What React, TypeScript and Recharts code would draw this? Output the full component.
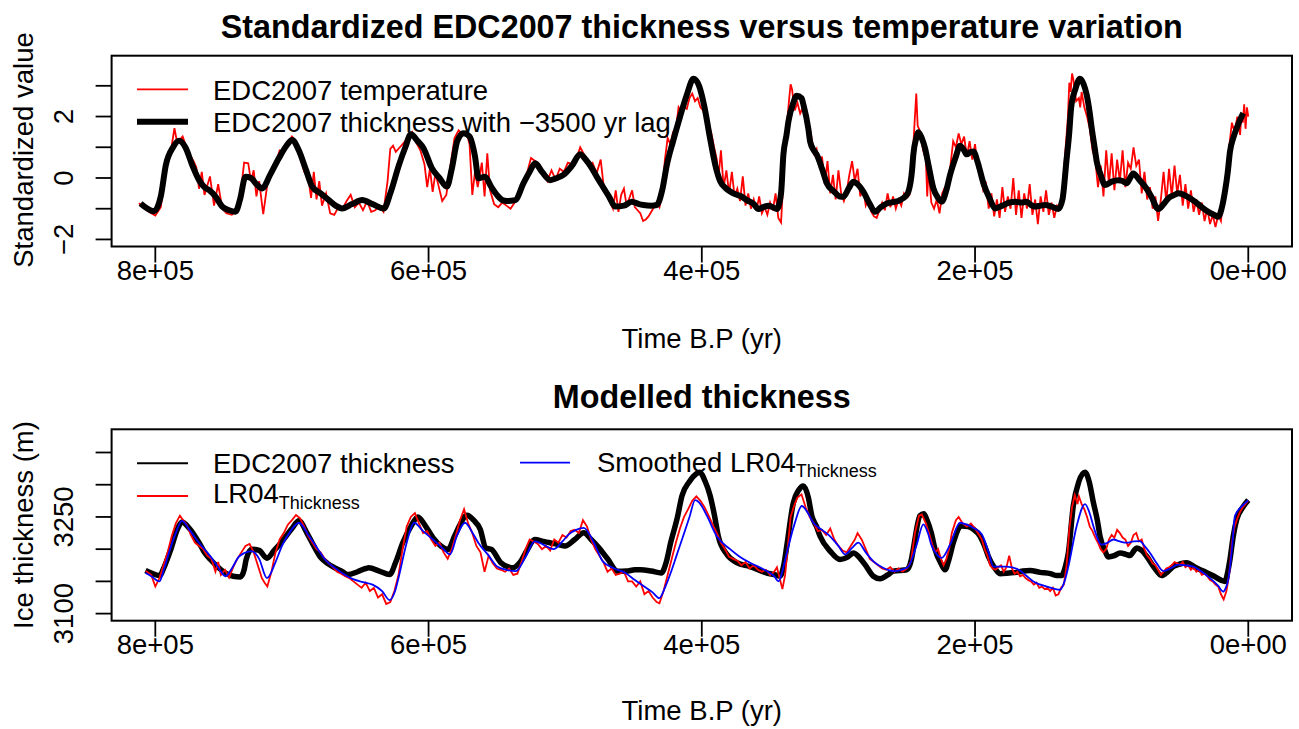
import { LineChart, Line, XAxis, YAxis } from "recharts";

const FONT = '"Liberation Sans", Arial, Helvetica, sans-serif';

// axis ticks (age in kyr B.P.)
const xTicks = [800, 600, 400, 200, 0];
const xTickLabels = ["8e+05", "6e+05", "4e+05", "2e+05", "0e+00"];
const stdTicks = [-2, -1, 0, 1, 2, 3];
const stdTickLabels = ["\u22122", "", "0", "", "2", ""];
const thickTicks = [3100, 3150, 3200, 3250, 3300, 3350];
const thickTickLabels = ["3100", "", "", "3250", "", ""];

// top panel: EDC2007 temperature (standardized), [age kyr, value]
const edcTemp: [number, number][] = [
  [812, -0.82], [808, -0.98], [804, -1.12], [800, -1.22], [796, -0.95], [792, 0.35], [788, 1.05], [786, 1.62],
  [784, 1.15], [780, 1.35], [776, 0.85], [772, 0.55], [770, 0.35], [768, -0.35], [766, 0.2], [764, -0.55],
  [760, 0.05], [757, -0.9], [754, -0.2], [751, -1.0], [748, -1.15], [744, -1.2], [740, -1.05], [737, -0.3],
  [735, 0.5], [732, 0.48], [730, -0.1], [728, 0.25], [726, -0.6], [724, -0.1], [721, -1.18], [718, -0.2],
  [715, 0.2], [712, 0.45], [709, 0.9], [706, 0.85], [703, 1.15], [700, 1.35], [697, 1.2], [694, 0.7],
  [691, 0.2], [688, 0.0], [686, -0.65], [684, 0.2], [682, -0.7], [680, -0.1], [678, -0.9], [675, -0.5],
  [672, -1.15], [669, -1.2], [666, -0.95], [663, -1.0], [660, -0.75], [657, -0.55], [654, -0.95], [651, -0.8],
  [648, -1.05], [645, -0.75], [642, -1.1], [639, -1.05], [636, -0.9], [633, -1.1], [630, -0.1], [628, 0.95],
  [626, 1.05], [624, 0.85], [621, 1.0], [618, 1.15], [615, 1.35], [612, 1.5], [609, 1.15], [606, 0.9],
  [603, 0.45], [601, -0.3], [599, 0.3], [597, -0.45], [595, 0.15], [593, -0.2], [590, -0.75], [587, -0.55],
  [584, 0.4], [581, 1.3], [578, 1.55], [575, 1.4], [572, 1.45], [570, 1.1], [568, -0.55], [566, 0.2],
  [564, -0.3], [561, 0.5], [559, -0.6], [557, 0.8], [555, -0.4], [552, -0.85], [549, -0.95], [546, -0.8],
  [543, -0.9], [540, -1.0], [537, -0.8], [534, -0.5], [531, -0.1], [528, 0.15], [525, 0.65], [522, 0.55],
  [519, 0.45], [516, 0.2], [513, -0.1], [510, 0.25], [507, -0.05], [504, 0.3], [501, 0.2], [498, 0.5],
  [495, 0.45], [492, 0.6], [489, 1.0], [486, 0.75], [483, 0.45], [480, 0.5], [477, 0.15], [474, 0.6],
  [472, -0.2], [470, -0.55], [467, -0.8], [465, -1.0], [463, -0.4], [461, -1.1], [459, -0.55], [457, -0.35],
  [455, -0.9], [453, -0.65], [451, -0.4], [449, -0.95], [447, -1.05], [445, -1.15], [443, -1.4], [441, -1.35],
  [439, -1.25], [437, -1.1], [435, -0.95], [433, -0.8], [431, -0.95], [429, -0.5], [427, 0.6], [425, 1.3],
  [423, 1.1], [421, 1.5], [419, 1.6], [417, 2.3], [415, 2.15], [413, 2.3], [411, 2.25], [409, 2.6],
  [407, 2.75], [405, 2.5], [403, 2.6], [401, 2.3], [399, 2.2], [397, 1.9], [395, 1.75], [393, 1.45],
  [391, 1.0], [389, 0.6], [388, -0.1], [386, 0.9], [384, -0.3], [382, 0.25], [380, -0.5], [378, 0.2],
  [376, -0.6], [374, -0.35], [372, -0.75], [370, 0.05], [368, -0.9], [366, -0.5], [364, -1.0], [362, -0.7],
  [360, -1.05], [358, -0.6], [356, -1.15], [354, -0.95], [352, -1.2], [350, -0.8], [348, -1.05], [346, -0.5],
  [344, -1.3], [342, -1.45], [340, 0.2], [338, 1.6], [336, 2.6], [335, 3.05], [334, 2.9], [332, 2.2],
  [330, 2.45], [328, 2.1], [326, 2.3], [324, 2.0], [322, 1.8], [320, 1.4], [318, 0.8], [316, 0.95],
  [314, 0.4], [312, 0.7], [310, -0.2], [308, 0.55], [306, -0.5], [304, 0.1], [302, -0.7], [300, 0.25],
  [298, -0.5], [296, -0.75], [294, -0.45], [292, 0.1], [290, 0.55], [288, -0.1], [286, 0.3], [284, -0.6],
  [282, -0.3], [280, -0.9], [278, -0.7], [276, -1.1], [274, -1.25], [272, -1.3], [270, -1.05], [268, -0.8],
  [266, -1.05], [264, -0.5], [262, -0.95], [260, -0.6], [258, -1.0], [256, -0.7], [254, -0.9], [252, -0.5],
  [250, -0.65], [248, -0.55], [246, 0.4], [244, 2.0], [243, 2.75], [242, 1.7], [240, 1.5], [238, 0.9],
  [236, 0.6], [235, -0.6], [234, 0.3], [232, -0.8], [230, -1.0], [228, -0.7], [226, -1.15], [224, -0.5],
  [222, -0.3], [220, -0.2], [218, 0.4], [216, 1.2], [214, 1.0], [212, 1.45], [210, 1.1], [208, 1.35],
  [206, 0.7], [204, 1.2], [202, 0.6], [200, 1.1], [198, 0.3], [196, 0.1], [194, -0.4], [192, -0.2],
  [190, -1.0], [188, -0.5], [186, -1.25], [184, -0.7], [182, -1.3], [180, -0.3], [178, -1.1], [176, -0.6],
  [174, -1.0], [172, 0.0], [170, -1.2], [168, -0.4], [166, -1.3], [164, -0.5], [162, -1.0], [160, -0.2],
  [158, -1.2], [156, -0.7], [154, -1.5], [152, -0.6], [150, -1.1], [148, -0.4], [146, -1.2], [144, -0.8],
  [142, -1.3], [140, -0.9], [138, -1.0], [136, -0.4], [134, 0.8], [132, 2.0], [131, 3.1], [130, 2.8],
  [129, 3.4], [128, 3.2], [126, 2.5], [124, 2.6], [123, 2.3], [122, 2.8], [120, 2.3], [118, 2.0],
  [116, 1.6], [114, 0.9], [112, 0.6], [110, -0.3], [108, 0.4], [106, -0.6], [104, 0.9], [102, -0.2],
  [100, 0.8], [98, -0.4], [96, 0.6], [94, -0.1], [92, 0.9], [90, -0.3], [88, 0.5], [86, 0.3],
  [84, 1.0], [82, 0.4], [80, 0.6], [78, -0.5], [76, 0.2], [74, -0.7], [72, -0.3], [70, -1.0],
  [68, -0.6], [66, -1.4], [64, -0.7], [62, 0.2], [60, -0.8], [58, 0.3], [56, -0.6], [54, 0.4],
  [52, -0.5], [50, 0.1], [48, -0.9], [46, -0.2], [44, -1.0], [42, -0.4], [40, -1.1], [38, -0.7],
  [36, -1.2], [34, -0.8], [32, -1.4], [30, -1.0], [28, -1.5], [26, -1.2], [24, -1.6], [22, -1.2],
  [20, -1.4], [18, -0.5], [16, 0.2], [14, 1.0], [12, 1.8], [10, 1.5], [8, 2.0], [6, 1.4],
  [5, 2.1], [4, 1.8], [3, 2.4], [2, 1.6], [1, 2.3], [0, 2.0],
];

// top panel: EDC2007 thickness with -3500 yr lag (standardized)
const edcThickLag: [number, number][] = [
  [810.8, -0.83], [801, -1.08], [796, -0.6], [792.3, 0.42], [787, 1.0], [782.7, 1.21], [778, 1.0], [773, 0.42],
  [768, -0.07], [764, -0.3], [760.8, -0.39], [756, -0.6], [751, -0.93], [746, -1.05], [741.3, -1.1], [738, -0.7],
  [734, 0.04], [730, 0.0], [726, -0.2], [721.8, -0.34], [716, 0.1], [709.6, 0.64], [704, 1.05], [699.8, 1.24],
  [695, 0.9], [690, 0.3], [685.2, -0.28], [679, -0.5], [673, -0.72], [668, -0.9], [663.2, -0.99], [656, -0.85],
  [648.6, -0.72], [641, -0.85], [632.7, -0.99], [628, -0.5], [621.7, 0.42], [617, 1.0], [613, 1.42], [608, 1.2],
  [603.7, 0.97], [597.6, 0.32], [592, 0.0], [586.6, -0.28], [583, 0.3], [579, 1.2], [574.5, 1.46], [570, 1.35],
  [566, 0.7], [563.5, -0.01], [558.6, 0.04], [554, -0.3], [550, -0.55], [546, -0.72], [542.7, -0.75], [536.6, -0.72],
  [530.5, -0.17], [526, 0.2], [522, 0.48], [517, 0.2], [511, -0.07], [506, 0.0], [501.3, 0.1], [495, 0.4],
  [489, 0.77], [485, 0.6], [480.5, 0.32], [477, 0.05], [473.2, -0.23], [468, -0.6], [463.4, -0.93], [457, -0.9],
  [451.2, -0.77], [446, -0.85], [442.7, -0.88], [437, -0.9], [433, -0.88], [429, -0.4], [425.6, 0.42], [421, 1.2],
  [415.9, 2.0], [411, 2.7], [406.1, 3.23], [402, 3.0], [398, 2.3], [394, 1.3], [390, 0.4], [386.6, -0.1],
  [382, -0.35], [376.9, -0.5], [371, -0.6], [367.1, -0.72], [362, -0.85], [358.6, -1.01], [355, -0.95], [351.3, -0.9],
  [348, -0.95], [345.1, -1.01], [342, -0.5], [340.3, 0.75], [338, 1.4], [336.6, 1.84], [333, 2.45], [330.5, 2.68],
  [327, 2.6], [325.6, 2.38], [322, 1.6], [320.7, 1.18], [318, 0.9], [315.8, 0.75], [312, 0.3], [308.5, -0.17],
  [303, -0.45], [299, -0.6], [296.4, -0.61], [292, -0.3], [289, -0.12], [286, -0.2], [281.7, -0.45], [277, -0.85],
  [273.2, -1.1], [269, -0.95], [264.6, -0.83], [259, -0.78], [254.9, -0.72], [251, -0.6], [248.8, -0.45], [246, 0.3],
  [245.2, 0.75], [243, 1.3], [241.5, 1.49], [239, 1.3], [236.6, 0.97], [234, 0.4], [230.5, -0.34], [227, -0.65],
  [224.4, -0.77], [221, -0.4], [218.3, 0.1], [214, 0.7], [211, 1.05], [208, 0.9], [206.1, 0.77], [203, 0.85],
  [201.2, 0.86], [198, 0.5], [193.9, -0.17], [189, -0.7], [185.4, -0.99], [180, -0.9], [175, -0.8], [170.7, -0.77],
  [166, -0.8], [162.2, -0.77], [159, -0.88], [156.1, -0.93], [152, -0.9], [148.8, -0.88], [144, -0.93], [139, -1.01],
  [136, -0.7], [133, 0.6], [131, 1.5], [129.7, 2.27], [126.5, 2.9], [123.2, 3.23], [120.5, 3.05], [118.3, 2.71],
  [116, 2.1], [114.6, 1.62], [112.5, 1.0], [110.9, 0.53], [108, 0.1], [104.9, -0.23], [100, -0.12], [95.1, -0.07],
  [92, -0.1], [89, -0.17], [86.5, 0.0], [84.2, 0.15], [80, -0.05], [75.6, -0.28], [71, -0.6], [65.9, -1.01],
  [62, -0.85], [58.5, -0.66], [54, -0.55], [51.2, -0.5], [45, -0.6], [39, -0.77], [34, -0.95], [29.3, -1.1],
  [25, -1.2], [22, -1.26], [19, -0.9], [17.1, -0.45], [15, 0.2], [13.4, 0.86], [11, 1.3], [8.5, 1.62],
  [6, 1.9], [3.7, 2.11],
];

// bottom panel: EDC2007 thickness (m)
const edcThick: [number, number][] = [
  [807.2, 3167], [803, 3163], [797, 3159], [793, 3175], [788.7, 3199.5], [784, 3230], [780.5, 3242], [775, 3232],
  [768, 3210], [764, 3195], [759.7, 3184], [754, 3172], [748.7, 3163], [743, 3158], [737.7, 3157], [735, 3168],
  [733.5, 3184], [729.4, 3200], [724, 3198], [718.3, 3186], [713, 3198], [707.3, 3212], [700, 3232], [694.9, 3244],
  [689, 3225], [684, 3205], [679.6, 3189], [674, 3178], [668.6, 3171], [663, 3165], [658.9, 3160.5], [652, 3165],
  [646, 3170], [643.8, 3171], [636, 3166], [628.5, 3160.5], [624, 3180], [618.9, 3210], [613, 3235], [607.8, 3250],
  [602, 3235], [596.8, 3218], [591, 3205], [585.7, 3199.5], [581, 3220], [577.5, 3236], [571.9, 3252.7], [567, 3245],
  [562.2, 3231], [558.1, 3202], [554, 3199.5], [547.1, 3179], [541, 3172], [538.8, 3171], [533.3, 3179], [528, 3198],
  [522.2, 3215], [516, 3212], [511.2, 3210], [505, 3207], [500.1, 3205], [493, 3215], [486.4, 3225.6], [481, 3215],
  [475.3, 3202], [469, 3185], [461.5, 3165.6], [455, 3166], [449, 3168], [444.9, 3168], [437, 3166], [429.7, 3163],
  [426, 3180], [422.8, 3210], [418, 3248], [414.5, 3283], [409, 3305], [404, 3317], [401.7, 3319.4], [397.5, 3305],
  [393.9, 3283], [390.5, 3250], [387.9, 3220], [381.7, 3192], [374.4, 3179], [364.7, 3173], [352.4, 3163], [346, 3160],
  [342.7, 3158], [340, 3175], [337.8, 3205], [333, 3272], [329, 3292], [325.7, 3298], [322, 3280], [319.5, 3252],
  [316, 3235], [313.4, 3220], [306.1, 3197], [298.8, 3184], [293, 3188], [289.1, 3194], [285, 3188], [280.5, 3176],
  [274.4, 3158], [269.5, 3154], [264, 3160], [259.8, 3166], [250, 3168], [246.5, 3185], [245.2, 3200], [240.3, 3252],
  [237.5, 3255], [235.3, 3246], [232, 3225], [229.3, 3200], [225, 3178], [222, 3168], [219, 3185], [215.9, 3210],
  [209.7, 3236], [205, 3235], [201.2, 3231], [196.3, 3220], [193, 3205], [190.3, 3189], [186, 3172], [181.7, 3162],
  [175, 3163], [169.5, 3164], [165, 3166], [159.8, 3167], [152.4, 3164], [145, 3162], [140, 3159], [136.6, 3159],
  [134, 3172], [131.7, 3194], [128.1, 3267], [124, 3305], [119.5, 3319.4], [116.5, 3305], [113.4, 3272.5], [110.5, 3245],
  [108.5, 3220], [105, 3198], [102.5, 3188], [98, 3190], [93.9, 3194], [89.5, 3192], [86.6, 3190], [83.5, 3198],
  [81.7, 3202], [78, 3198], [74.4, 3189], [69, 3172], [63.4, 3159], [59, 3165], [54.9, 3173], [50, 3177],
  [45.1, 3179], [39, 3172], [32.9, 3166], [25, 3158], [20, 3152], [17.1, 3150], [15, 3165], [13.4, 3184],
  [11, 3220], [8.5, 3246], [4, 3265], [0, 3276],
];

// bottom panel: LR04 thickness (m)
const lr04Thick: [number, number][] = [
  [807, 3166], [803, 3160], [800, 3142], [797, 3155], [794, 3175], [791, 3195], [788, 3220], [785, 3240],
  [782, 3252], [780, 3246], [777, 3238], [774, 3222], [771, 3210], [768, 3205], [765, 3200], [762, 3190],
  [759, 3185], [756, 3165], [754, 3180], [752, 3160], [749, 3168], [746, 3156], [743, 3172], [740, 3185],
  [737, 3195], [734, 3205], [731, 3208], [728, 3195], [725, 3175], [722, 3155], [720, 3148], [718, 3142],
  [715, 3165], [712, 3195], [709, 3215], [706, 3225], [703, 3238], [700, 3245], [697, 3253], [694, 3248],
  [691, 3235], [688, 3220], [685, 3210], [682, 3200], [679, 3195], [676, 3185], [673, 3178], [670, 3172],
  [667, 3165], [664, 3162], [661, 3158], [658, 3155], [655, 3150], [652, 3145], [649, 3140], [646, 3148],
  [643, 3135], [640, 3140], [637, 3125], [634, 3130], [631, 3115], [628, 3118], [625, 3135], [622, 3160],
  [619, 3200], [616, 3235], [613, 3250], [610, 3256], [607, 3240], [604, 3225], [601, 3228], [598, 3215],
  [595, 3205], [592, 3210], [589, 3195], [586, 3185], [583, 3200], [580, 3222], [577, 3245], [574, 3262],
  [571, 3240], [568, 3225], [565, 3205], [562, 3195], [559, 3165], [556, 3190], [553, 3178], [550, 3170],
  [547, 3168], [544, 3165], [541, 3170], [538, 3160], [535, 3162], [532, 3180], [529, 3200], [526, 3215],
  [523, 3212], [520, 3208], [517, 3200], [514, 3205], [511, 3198], [508, 3215], [505, 3210], [502, 3222],
  [499, 3218], [496, 3228], [493, 3230], [490, 3225], [487, 3245], [484, 3235], [481, 3215], [478, 3200],
  [475, 3190], [472, 3180], [469, 3165], [466, 3170], [463, 3160], [460, 3162], [457, 3165], [454, 3150],
  [451, 3150], [448, 3142], [445, 3150], [442, 3130], [439, 3135], [436, 3125], [433, 3118], [431, 3116],
  [428, 3135], [425, 3160], [422, 3185], [419, 3210], [416, 3232], [413, 3250], [410, 3262], [407, 3275],
  [404, 3282], [401, 3275], [398, 3265], [395, 3252], [392, 3238], [389, 3225], [386, 3210], [383, 3200],
  [380, 3188], [377, 3185], [374, 3182], [371, 3175], [368, 3180], [365, 3170], [362, 3175], [359, 3168],
  [356, 3165], [353, 3168], [350, 3160], [347, 3165], [345, 3172], [343, 3155], [341, 3138], [339, 3160],
  [337, 3205], [335, 3250], [332, 3270], [330, 3280], [327, 3285], [324, 3265], [321, 3250], [318, 3240],
  [315, 3228], [312, 3230], [309, 3222], [306, 3232], [303, 3215], [300, 3205], [297, 3198], [294, 3195],
  [291, 3205], [288, 3215], [286, 3225], [283, 3215], [280, 3200], [277, 3185], [274, 3180], [271, 3175],
  [268, 3170], [265, 3168], [262, 3172], [259, 3165], [256, 3170], [253, 3165], [250, 3170], [247, 3180],
  [244, 3225], [241, 3252], [239, 3254], [236, 3240], [233, 3220], [231, 3205], [229, 3195], [227, 3200],
  [225, 3185], [223, 3175], [221, 3185], [219, 3200], [217, 3225], [214, 3245], [212, 3250], [209, 3240],
  [206, 3235], [203, 3240], [200, 3232], [197, 3222], [195, 3215], [193, 3200], [191, 3190], [189, 3175],
  [187, 3170], [185, 3168], [183, 3172], [181, 3175], [179, 3165], [177, 3172], [175, 3190], [173, 3170],
  [171, 3162], [169, 3165], [167, 3158], [165, 3160], [163, 3155], [161, 3152], [159, 3150], [157, 3145],
  [155, 3148], [153, 3140], [151, 3142], [149, 3138], [147, 3140], [145, 3135], [143, 3140], [141, 3128],
  [139, 3130], [137, 3140], [135, 3145], [133, 3175], [131, 3230], [129, 3265], [127, 3284], [125, 3270],
  [124, 3282], [122, 3270], [120, 3262], [118, 3250], [116, 3235], [114, 3228], [112, 3218], [110, 3210],
  [108, 3200], [106, 3195], [104, 3200], [102, 3215], [100, 3222], [98, 3218], [96, 3230], [94, 3225],
  [92, 3218], [90, 3215], [88, 3205], [86, 3210], [84, 3222], [82, 3225], [80, 3212], [78, 3215],
  [76, 3200], [74, 3190], [72, 3185], [70, 3178], [68, 3175], [66, 3168], [64, 3160], [62, 3165],
  [60, 3170], [58, 3172], [56, 3175], [54, 3180], [52, 3178], [50, 3175], [48, 3180], [46, 3172],
  [44, 3175], [42, 3168], [40, 3172], [38, 3165], [36, 3168], [34, 3160], [32, 3162], [30, 3158],
  [28, 3152], [26, 3150], [24, 3145], [22, 3142], [20, 3130], [18, 3122], [16, 3135], [14, 3160],
  [12, 3210], [10, 3235], [8, 3248], [6, 3258], [4, 3265], [2, 3270], [0, 3276],
];

// bottom panel: smoothed LR04 thickness (m)
const lr04Smooth: [number, number][] = [
  [807.2, 3163], [803, 3158], [797, 3150], [793.5, 3170], [790.1, 3194], [785, 3225], [780.5, 3244], [775, 3230],
  [768, 3210], [759.7, 3189], [754, 3172], [748.7, 3158], [744, 3170], [739, 3188], [734.9, 3194], [729.4, 3197],
  [724, 3185], [718.3, 3155], [712, 3180], [707.3, 3205], [701, 3228], [694.9, 3241], [688, 3222], [681, 3200],
  [675, 3182], [668.6, 3171], [661, 3160], [654.8, 3153], [648, 3149], [641, 3145], [634, 3135], [628.5, 3121],
  [624.5, 3135], [621.7, 3158], [616, 3210], [610.6, 3241], [604, 3228], [596.8, 3215], [590, 3202], [584.3, 3192],
  [579, 3222], [573.3, 3241], [568, 3226], [563.6, 3210], [556, 3190], [549.8, 3173], [543, 3168], [536.1, 3166],
  [529, 3188], [522.2, 3212], [515, 3206], [508.5, 3200], [502, 3212], [497.4, 3223], [492, 3230], [486.4, 3233],
  [479, 3210], [472.5, 3181], [464, 3170], [455.9, 3163], [449, 3152], [442.2, 3142], [436, 3133], [431.1, 3124],
  [427, 3140], [422.8, 3163], [418.5, 3190], [414.5, 3215], [409, 3250], [404.9, 3276], [401, 3270], [396.3, 3252],
  [389, 3220], [379.3, 3200], [372, 3188], [364.7, 3179], [352.4, 3166], [347, 3158], [343.9, 3150], [340.5, 3170],
  [337.8, 3194], [332, 3240], [326.8, 3267], [322, 3255], [318.3, 3241], [312, 3230], [306.1, 3220], [300, 3205],
  [295.1, 3192], [290, 3202], [285.4, 3210], [280, 3195], [274.4, 3181], [268, 3172], [259.8, 3166], [254, 3168],
  [248.8, 3173], [243, 3205], [237.8, 3238.6], [234.5, 3225], [231.7, 3205], [228, 3192], [224.4, 3186.5], [218.3, 3207],
  [211, 3241], [206, 3238], [201.2, 3233], [195.1, 3223], [190, 3195], [186.6, 3173], [176.8, 3173], [167.1, 3167],
  [162, 3158], [157.3, 3150], [147.5, 3142], [137.8, 3137], [134.5, 3150], [131.7, 3173], [125.6, 3236], [119.5, 3270],
  [116, 3255], [113.4, 3236], [107.3, 3207], [103, 3210], [98.8, 3215], [94, 3212], [89, 3210], [84, 3212],
  [79.3, 3212.5], [76, 3205], [71.9, 3194], [67, 3178], [62.2, 3166], [57, 3170], [51.2, 3176], [46, 3175],
  [40.2, 3173], [34, 3165], [28, 3155], [22, 3143], [18.3, 3134], [16.5, 3140], [14.6, 3153], [12, 3200],
  [9.7, 3252], [5, 3266], [0, 3276],
];

const toRows = (pts: [number, number][]) => pts.map(([age, v]) => ({ age, v }));

const PLOT_L = 111.6;
const PLOT_R = 1292;
const W = 1299;
const CH = 365;
const FS = 27.5;

function XTick(props: any) {
  const { x, y, payload } = props;
  const lab = xTickLabels[xTicks.indexOf(payload.value)];
  return (
    <text x={x} y={y + 17} textAnchor="middle" fontFamily={FONT} fontSize={FS} fill="#000">
      {lab}
    </text>
  );
}

function makeYTick(ticks: number[], labels: string[]) {
  return (props: any) => {
    const { x, y, payload } = props;
    const lab = labels[ticks.indexOf(payload.value)];
    const bx = x - 23;
    return (
      <text x={bx} y={y} transform={`rotate(-90 ${bx} ${y})`} textAnchor="middle" fontFamily={FONT} fontSize={FS} fill="#000">
        {lab}
      </text>
    );
  };
}

const StdTick = makeYTick(stdTicks, stdTickLabels);
const ThickTick = makeYTick(thickTicks, thickTickLabels);

function Panel(props: {
  top: number;
  plotTop: number;
  plotBottom: number;
  yDomain: [number, number];
  yTicks: number[];
  yTick: any;
  children: any;
}) {
  const { top, plotTop, plotBottom, yDomain, yTicks, yTick, children } = props;
  const xH = 60;
  return (
    <div style={{ position: "absolute", left: 0, top }}>
      <LineChart
        width={W}
        height={CH}
        margin={{ top: plotTop, right: W - PLOT_R, bottom: CH - plotBottom - xH, left: 0 }}
      >
        <XAxis
          type="number"
          dataKey="age"
          domain={[-32, 832]}
          reversed
          allowDataOverflow
          ticks={xTicks}
          interval={0}
          height={xH}
          tickSize={16}
          tickMargin={0}
          axisLine={false}
          tickLine={{ stroke: "#000", strokeWidth: 1.8 }}
          tick={<XTick />}
        />
        <YAxis
          type="number"
          dataKey="v"
          domain={yDomain}
          allowDataOverflow
          ticks={yTicks}
          interval={0}
          width={PLOT_L}
          tickSize={16}
          tickMargin={0}
          axisLine={false}
          tickLine={{ stroke: "#000", strokeWidth: 1.8 }}
          tick={yTick}
        />
        {children}
      </LineChart>
    </div>
  );
}

const txt = { fontFamily: FONT, fill: "#000" } as const;

export default function App() {
  const cx = (PLOT_L + PLOT_R) / 2;
  const topBox = { y0: 55.7, y1: 246.5 };
  const botBox = { y0: 429.3, y1: 620.7 };
  return (
    <div style={{ position: "absolute", left: 0, top: 0, width: W, height: 729, background: "#fff" }}>
      <Panel top={0} plotTop={topBox.y0} plotBottom={topBox.y1} yDomain={[-2.23, 3.98]} yTicks={stdTicks} yTick={<StdTick />}>
        <Line data={toRows(edcTemp)} dataKey="v" type="linear" stroke="#ff0000" strokeWidth={1.8} dot={false} isAnimationActive={false} />
        <Line data={toRows(edcThickLag)} dataKey="v" type="monotone" stroke="#000" strokeWidth={6} dot={false} isAnimationActive={false} />
      </Panel>
      <Panel top={364} plotTop={botBox.y0 - 364} plotBottom={botBox.y1 - 364} yDomain={[3089, 3386]} yTicks={thickTicks} yTick={<ThickTick />}>
        <Line data={toRows(edcThick)} dataKey="v" type="monotone" stroke="#000" strokeWidth={5.5} dot={false} isAnimationActive={false} />
        <Line data={toRows(lr04Thick)} dataKey="v" type="linear" stroke="#ff0000" strokeWidth={1.8} dot={false} isAnimationActive={false} />
        <Line data={toRows(lr04Smooth)} dataKey="v" type="monotone" stroke="#0000ff" strokeWidth={1.8} dot={false} isAnimationActive={false} />
      </Panel>

      <svg width={W} height={729} style={{ position: "absolute", left: 0, top: 0, pointerEvents: "none" }}>
        {/* plot boxes */}
        <rect x={PLOT_L} y={topBox.y0} width={PLOT_R - PLOT_L} height={topBox.y1 - topBox.y0} fill="none" stroke="#000" strokeWidth={2} />
        <rect x={PLOT_L} y={botBox.y0} width={PLOT_R - PLOT_L} height={botBox.y1 - botBox.y0} fill="none" stroke="#000" strokeWidth={2} />

        {/* titles */}
        <text x={cx} y={37.5} textAnchor="middle" fontSize={32.3} fontWeight="bold" {...txt}>
          Standardized EDC2007 thickness versus temperature variation
        </text>
        <text x={cx} y={408} textAnchor="middle" fontSize={32.3} fontWeight="bold" {...txt}>
          Modelled thickness
        </text>

        {/* axis titles */}
        <text x={cx} y={348} textAnchor="middle" fontSize={FS} {...txt}>Time B.P (yr)</text>
        <text x={cx} y={720} textAnchor="middle" fontSize={FS} {...txt}>Time B.P (yr)</text>
        <text x={33} y={150} transform="rotate(-90 33 150)" textAnchor="middle" fontSize={FS} {...txt}>Standardized value</text>
        <text x={33} y={525} transform="rotate(-90 33 525)" textAnchor="middle" fontSize={FS} {...txt}>Ice thickness (m)</text>

        {/* top legend */}
        <line x1={137} x2={188} y1={89.3} y2={89.3} stroke="#ff0000" strokeWidth={1.8} />
        <text x={213} y={99.5} fontSize={FS} {...txt}>EDC2007 temperature</text>
        <line x1={137} x2={188} y1={121.7} y2={121.7} stroke="#000" strokeWidth={6} />
        <text x={213} y={131.5} fontSize={FS} {...txt}>EDC2007 thickness with {"\u22123500"} yr lag</text>

        {/* bottom legend */}
        <line x1={137} x2={188} y1={463.3} y2={463.3} stroke="#000" strokeWidth={2} />
        <text x={213} y={473} fontSize={FS} {...txt}>EDC2007 thickness</text>
        <line x1={137} x2={188} y1={496} y2={496} stroke="#ff0000" strokeWidth={1.8} />
        <text x={213} y={503} fontSize={FS} {...txt}>
          LR04<tspan fontSize={18} dy={6}>Thickness</tspan>
        </text>
        <line x1={520} x2={570} y1={462.7} y2={462.7} stroke="#0000ff" strokeWidth={1.8} />
        <text x={597} y={471.7} fontSize={FS} {...txt}>
          Smoothed LR04<tspan fontSize={18} dy={5}>Thickness</tspan>
        </text>
      </svg>
    </div>
  );
}
